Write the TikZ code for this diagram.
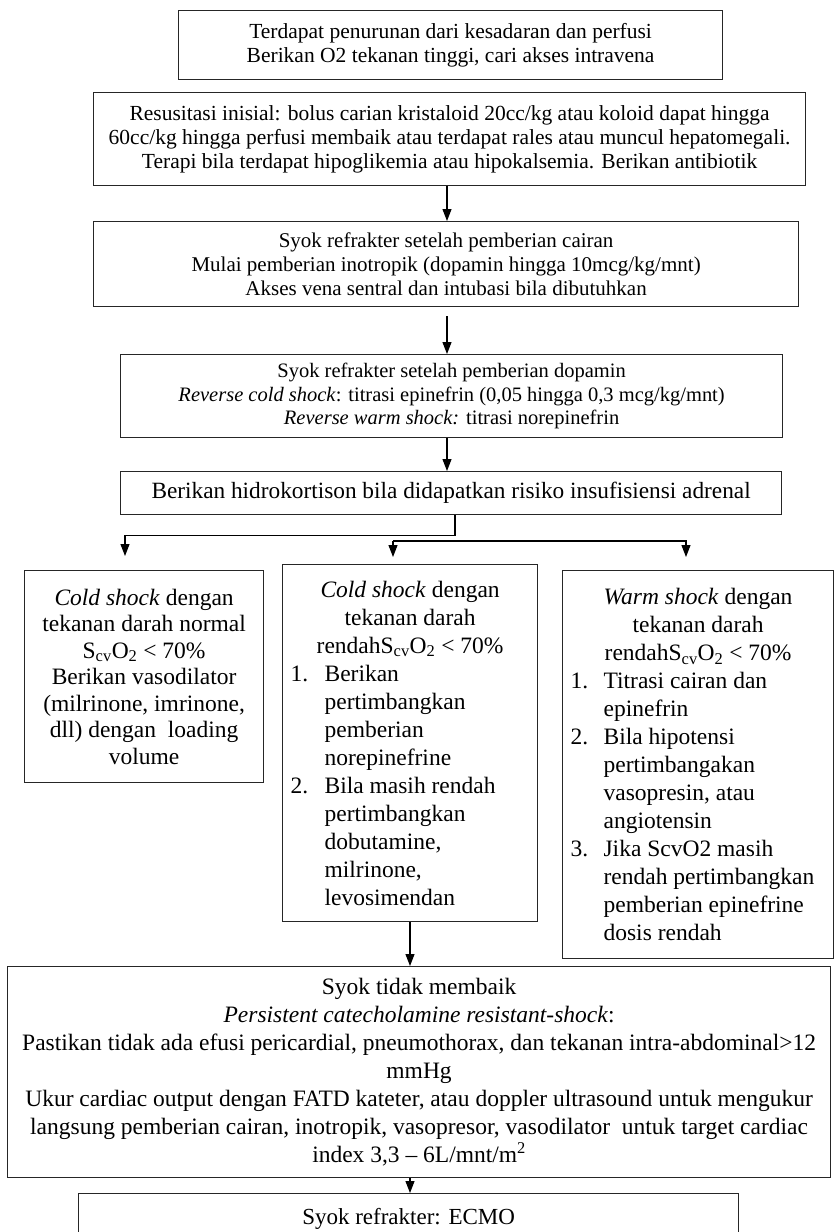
\documentclass[tikz,border=0pt]{standalone}
\usepackage{fontspec}
\setmainfont{Liberation Serif}
\usetikzlibrary{arrows.meta,calc}
\newcommand\myitem[4]{\makebox[#1][l]{\makebox[#2][l]{#3}#4}}
\begin{document}
\begin{tikzpicture}[x=1pt,y=-1pt,
  box/.style={draw=black!85, line width=1.2pt, inner sep=0pt, align=center, anchor=north west},
  topf/.style={font=\fontsize{21.5}{24}\selectfont},
  botf/.style={font=\fontsize{23.5}{28}\selectfont},
  arr/.style={draw=black, line width=1.1pt, -{Triangle[width=9pt,length=12pt]}},
  ln/.style={draw=black, line width=1.1pt}]
\useasboundingbox (0,0) rectangle (834,1232);
\clip (0,0) rectangle (834,1232);

\node[box,topf,minimum width=544pt,minimum height=69pt] (b1) at (178,10)
  {Terdapat penurunan dari kesadaran dan perfusi\\Berikan O2 tekanan tinggi, cari akses intravena};
\node[box,topf,minimum width=712pt,minimum height=93pt] (b2) at (93,92)
  {Resusitasi inisial: bolus carian kristaloid 20cc/kg atau koloid dapat hingga\\60cc/kg hingga perfusi membaik atau terdapat rales atau muncul hepatomegali.\\Terapi bila terdapat hipoglikemia atau hipokalsemia. Berikan antibiotik};
\node[box,font=\fontsize{21}{24}\selectfont,minimum width=705pt,minimum height=85pt] (b3) at (93,221)
  {Syok refrakter setelah pemberian cairan\\Mulai pemberian inotropik (dopamin hingga 10mcg/kg/mnt)\\Akses vena sentral dan intubasi bila dibutuhkan};
\node[box,font=\fontsize{20.5}{23.5}\selectfont,minimum width=662pt,minimum height=83pt] (b4) at (120,354)
  {Syok refrakter setelah pemberian dopamin\\\textit{Reverse cold shock}: titrasi epinefrin (0,05 hingga 0,3 mcg/kg/mnt)\\\textit{Reverse warm shock:} titrasi norepinefrin};
\node[box,font=\fontsize{23.3}{26}\selectfont,minimum width=661pt,minimum height=43pt] (b5) at (120,471)
  {Berikan hidrokortison bila didapatkan risiko insufisiensi adrenal};

\node[box,font=\fontsize{23.5}{26.5}\selectfont,minimum width=239pt,minimum height=212pt] (L) at (24,570)
  {\textit{Cold shock} dengan\\tekanan darah normal\\S\textsubscript{cv}O\textsubscript{2} < 70\%\\Berikan vasodilator\\(milrinone, imrinone,\\dll) dengan\ \ loading\\volume};

\node[box,botf,minimum width=255pt,minimum height=357pt] (M) at (282,564)
  {\textit{Cold shock} dengan\\tekanan darah\\rendahS\textsubscript{cv}O\textsubscript{2} < 70\%\\
   \myitem{239pt}{34pt}{1.}{Berikan}\\
   \myitem{239pt}{34pt}{}{pertimbangkan}\\
   \myitem{239pt}{34pt}{}{pemberian}\\
   \myitem{239pt}{34pt}{}{norepinefrine}\\
   \myitem{239pt}{34pt}{2.}{Bila masih rendah}\\
   \myitem{239pt}{34pt}{}{pertimbangkan}\\
   \myitem{239pt}{34pt}{}{dobutamine,}\\
   \myitem{239pt}{34pt}{}{milrinone,}\\
   \myitem{239pt}{34pt}{}{levosimendan}};

\node[box,botf,minimum width=271pt,minimum height=388pt] (R) at (562,570)
  {\textit{Warm shock} dengan\\tekanan darah\\rendahS\textsubscript{cv}O\textsubscript{2} < 70\%\\
   \myitem{255pt}{33pt}{1.}{Titrasi cairan dan}\\
   \myitem{255pt}{33pt}{}{epinefrin}\\
   \myitem{255pt}{33pt}{2.}{Bila hipotensi}\\
   \myitem{255pt}{33pt}{}{pertimbangakan}\\
   \myitem{255pt}{33pt}{}{vasopresin, atau}\\
   \myitem{255pt}{33pt}{}{angiotensin}\\
   \myitem{255pt}{33pt}{3.}{Jika ScvO2 masih}\\
   \myitem{255pt}{33pt}{}{rendah pertimbangkan}\\
   \myitem{255pt}{33pt}{}{pemberian epinefrine}\\
   \myitem{255pt}{33pt}{}{dosis rendah}};

\node[box,botf,minimum width=823pt,minimum height=211pt] (B) at (7,966)
  {Syok tidak membaik\\\textit{Persistent catecholamine resistant-shock}:\\Pastikan tidak ada efusi pericardial, pneumothorax, dan tekanan intra-abdominal>12\\mmHg\\Ukur cardiac output dengan FATD kateter, atau doppler ultrasound untuk mengukur\\langsung pemberian cairan, inotropik, vasopresor, vasodilator\ \ untuk target cardiac\\index 3,3 – 6L/mnt/m\textsuperscript{2}};

\node[box,font=\fontsize{23}{26}\selectfont,minimum width=660pt,minimum height=50pt] (E) at (78,1193)
  {Syok refrakter: ECMO};

% connectors
\coordinate (cx) at (447,0);
\coordinate (sx) at (455,0);
\coordinate (mx) at (410,0);
\coordinate (lt) at (125,556);
\coordinate (jl) at (393,541);
\coordinate (jr) at (686,541);
\coordinate (ml) at (393,557);
\coordinate (rr) at (686,557);

\draw[arr] (b2.south -| cx) -- (b3.north -| cx);
\draw[arr] ($(b3.south -| cx)+(0,9)$) -- (b4.north -| cx);
\draw[arr] (b4.south -| cx) -- (b5.north -| cx);
\draw[arr] (b5.south -| sx) -- ($(b5.south -| sx)+(0,20)$) -| (lt);
\draw[arr] (jl) -- (ml);
\draw[arr] (jl) -- (jr) -- (rr);
\draw[arr] (M.south -| mx) -- (B.north -| mx);
\draw[arr] (B.south -| mx) -- (E.north -| mx);
\end{tikzpicture}
\end{document}
